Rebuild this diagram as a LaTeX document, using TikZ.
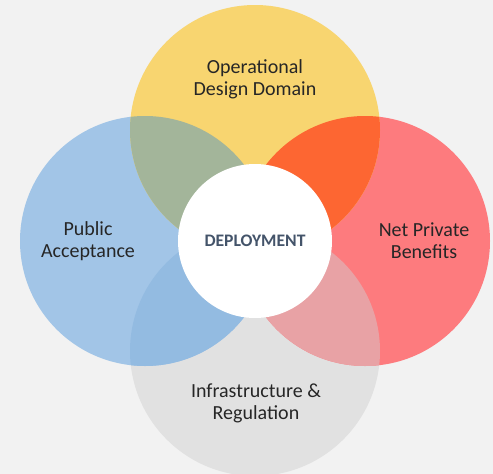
\documentclass[tikz,border=0pt]{standalone}
\usepackage{fontspec}
\setmainfont{Carlito}
\definecolor{bg}{HTML}{F2F2F2}
\definecolor{yel}{HTML}{F8D570}
\definecolor{blu}{HTML}{A2C5E7}
\definecolor{rd}{HTML}{FD7B7E}
\definecolor{gry}{HTML}{E1E1E1}
\definecolor{yelblu}{HTML}{A3B59A}
\definecolor{yelrd}{HTML}{FD6632}
\definecolor{blugry}{HTML}{93BBE1}
\definecolor{rdgry}{HTML}{E8A2A5}
\definecolor{dep}{HTML}{44546A}
\tikzset{x=1pt,y=-1pt,
  petal/.style={circle,minimum size=250pt,inner sep=0pt},
  lab/.style={font=\fontsize{20}{22}\selectfont,align=center,text=black!85}}
\begin{document}
\begin{tikzpicture}
\useasboundingbox (0,0) rectangle (493,474);
\fill[bg] (0,0) rectangle (493,474);
\begin{scope}
\clip (0,0) rectangle (493,474);
\node[petal,fill=gry] (gray) at (255,351) {};
\node[petal,fill=rd] (red) at (365,241) {};
\node[petal,fill=blu] (blue) at (145,241) {};
\node[petal,fill=yel] (yellow) at (255,130) {};
\begin{scope}
\clip (255,130) circle[radius=125];
\fill[yelblu] (145,241) circle[radius=125];
\fill[yelrd] (365,241) circle[radius=125];
\end{scope}
\begin{scope}
\clip (255,351) circle[radius=125];
\fill[blugry] (145,241) circle[radius=125];
\fill[rdgry] (365,241) circle[radius=125];
\end{scope}
\end{scope}
\node[circle,fill=white,minimum size=154pt,inner sep=0pt] (center) at (255,241) {};
\node[font=\fontsize{17.6}{19}\selectfont\bfseries,text=dep] (deptext) at (255,241) {DEPLOYMENT};
\node[lab] (t1) at (255,79) {Operational\\Design Domain};
\node[lab] (t2) at (88,241) {Public\\Acceptance};
\node[lab] (t3) at (424,241) {Net Private\\Benefits};
\node[lab] (t4) at (256,403) {Infrastructure \&\\Regulation};
\end{tikzpicture}
\end{document}
